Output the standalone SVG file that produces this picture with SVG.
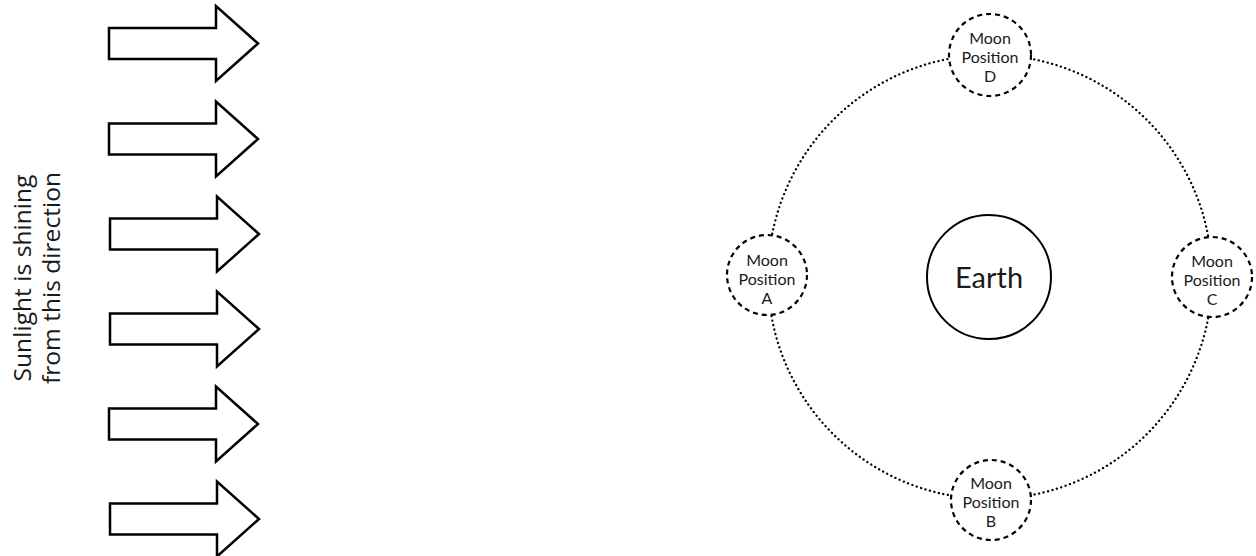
<svg xmlns="http://www.w3.org/2000/svg" width="1256" height="556" viewBox="0 0 1256 556">
<style>
.arrow{fill:#fff;stroke:#000;stroke-width:2.5;stroke-linejoin:miter}
.orbit{fill:none;stroke:#000;stroke-width:2.3;stroke-dasharray:0.1 4.5;stroke-linecap:round}
.moon{fill:#fff;stroke:#000;stroke-width:2.2;stroke-dasharray:5 4}
.earth{fill:#fff;stroke:#000;stroke-width:2}
.t{font-family:Lato,"Liberation Sans",sans-serif;fill:#1a1a1a;text-anchor:middle}
.ml{font-size:16px}
.sun{font-family:"Open Sans","Noto Sans",sans-serif;font-size:23.5px;fill:#1a1a1a;text-anchor:middle}
</style>
<defs>
<path id="arr" d="M0,-15.5 H107 V-37.5 L149,0 L107,37.5 V15.5 H0 Z"/>
</defs>
<rect width="1256" height="556" fill="#fff"/>
<g id="sunlight-arrows">
<use href="#arr" class="arrow" x="109" y="43.5"/>
<use href="#arr" class="arrow" x="109" y="139"/>
<use href="#arr" class="arrow" x="110" y="234"/>
<use href="#arr" class="arrow" x="110" y="329"/>
<use href="#arr" class="arrow" x="109" y="424"/>
<use href="#arr" class="arrow" x="110" y="519"/>
</g>
<g id="sunlight-label">
<text class="sun" transform="translate(0,278) rotate(-90)"><tspan x="0" y="31" textLength="207" lengthAdjust="spacingAndGlyphs">Sunlight is shining</tspan><tspan x="0" y="60" textLength="212" lengthAdjust="spacingAndGlyphs">from this direction</tspan></text>
</g>
<g id="connectors">
<circle class="orbit" cx="990" cy="277" r="222"/>
</g>
<g id="earth">
<circle class="earth" cx="989" cy="277" r="62"/>
<text class="t" x="989" y="288" font-size="29">Earth</text>
</g>
<g id="moon-a">
<circle class="moon" cx="767" cy="275" r="40"/>
<text class="t ml"><tspan x="767" y="266">Moon</tspan><tspan x="767" y="285">Position</tspan><tspan x="767" y="304">A</tspan></text>
</g>
<g id="moon-b">
<circle class="moon" cx="991" cy="500" r="40"/>
<text class="t ml"><tspan x="991" y="489">Moon</tspan><tspan x="991" y="508">Position</tspan><tspan x="991" y="527">B</tspan></text>
</g>
<g id="moon-c">
<circle class="moon" cx="1212" cy="277" r="40"/>
<text class="t ml"><tspan x="1212" y="267">Moon</tspan><tspan x="1212" y="286">Position</tspan><tspan x="1212" y="305">C</tspan></text>
</g>
<g id="moon-d">
<circle class="moon" cx="990" cy="55" r="41"/>
<text class="t ml"><tspan x="990" y="44">Moon</tspan><tspan x="990" y="63">Position</tspan><tspan x="990" y="82">D</tspan></text>
</g>
</svg>
